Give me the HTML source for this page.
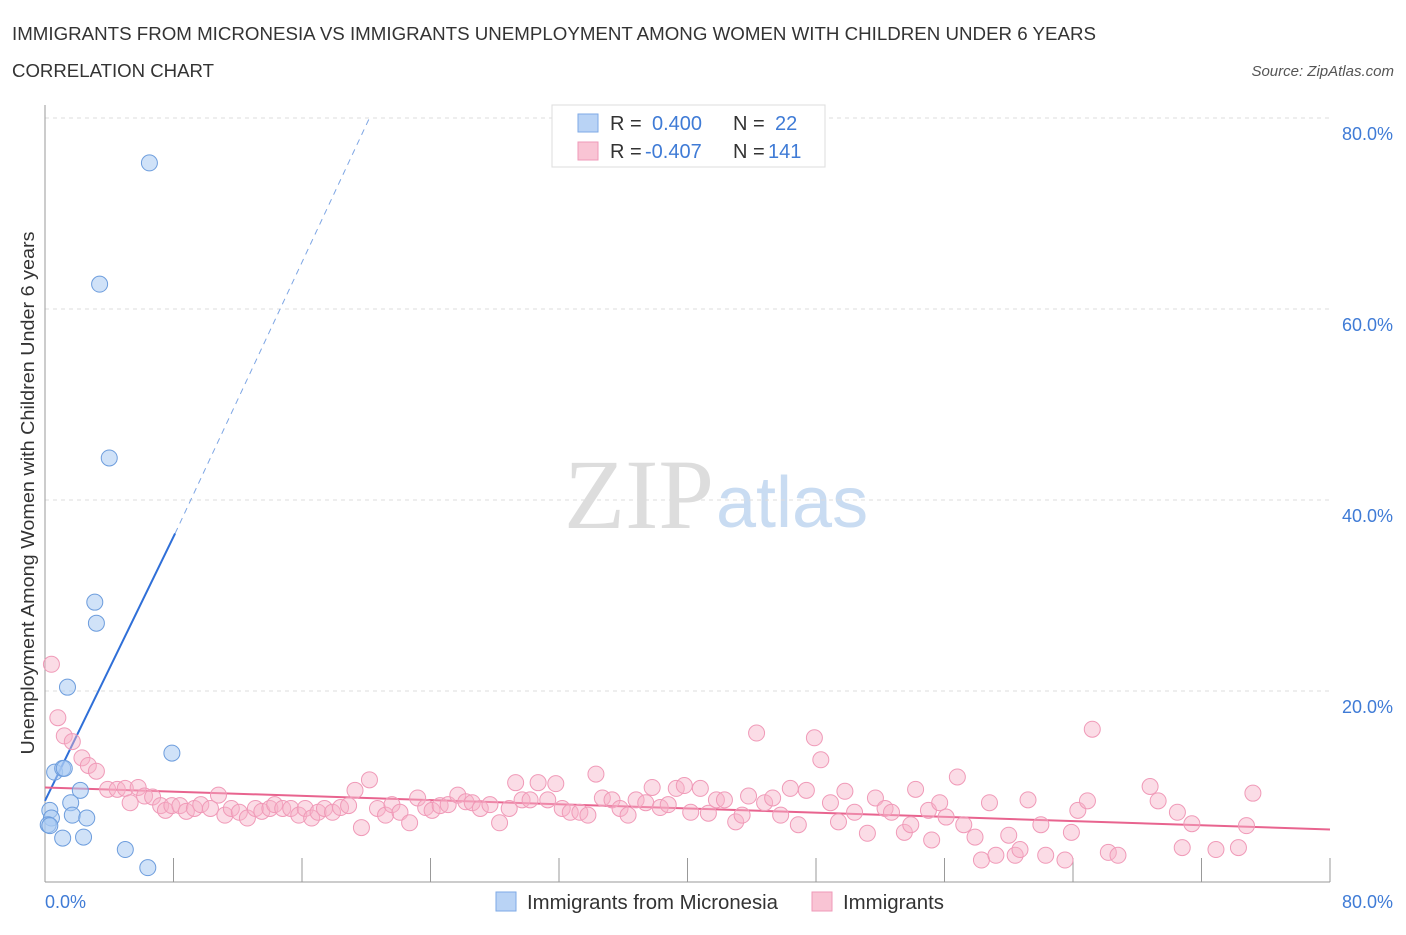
<!DOCTYPE html>
<html><head><meta charset="utf-8">
<style>
body{margin:0;background:#fff;font-family:"Liberation Sans",sans-serif;}
</style></head>
<body>
<svg id="chart" width="1406" height="930" xmlns="http://www.w3.org/2000/svg" style="font-family:'Liberation Sans',sans-serif">
<text x="12" y="40" font-size="18" fill="#333" textLength="1084" lengthAdjust="spacingAndGlyphs">IMMIGRANTS FROM MICRONESIA VS IMMIGRANTS UNEMPLOYMENT AMONG WOMEN WITH CHILDREN UNDER 6 YEARS</text>
<text x="12" y="77" font-size="18" fill="#333" textLength="202" lengthAdjust="spacingAndGlyphs">CORRELATION CHART</text>
<text x="1394" y="76" font-size="15" fill="#555" font-style="italic" text-anchor="end">Source: ZipAtlas.com</text>
<text x="714" y="528" font-size="100" fill="#ddd" text-anchor="end" font-family="Liberation Serif,serif">ZIP</text>
<text x="716" y="527" font-size="72" fill="#c9dcf2">atlas</text>
<text transform="translate(34,493) rotate(-90)" font-size="18" fill="#333" text-anchor="middle" textLength="523" lengthAdjust="spacingAndGlyphs">Unemployment Among Women with Children Under 6 years</text>
<g id="grid"></g><g id="axes"></g><g id="trend"></g><g id="pts"></g>
<g>
<rect x="552" y="105" width="273" height="62" fill="#fff" stroke="#ddd"/>
<rect x="578" y="114" width="20" height="18" fill="#b9d3f5" stroke="#7eaae6"/>
<rect x="578" y="142" width="20" height="18" fill="#f9c4d4" stroke="#ef9ab8"/>
<text y="130" font-size="20" fill="#333"><tspan x="610">R =</tspan><tspan x="652" fill="#3f7bd6">0.400</tspan><tspan x="733">N =</tspan><tspan x="775" fill="#3f7bd6">22</tspan></text>
<text y="158" font-size="20" fill="#333"><tspan x="610">R =</tspan><tspan x="645" fill="#3f7bd6">-0.407</tspan><tspan x="733">N =</tspan><tspan x="768" fill="#3f7bd6">141</tspan></text>
</g>
<g>
<rect x="496" y="892" width="20" height="19" fill="#b9d3f5" stroke="#7eaae6"/>
<text x="527" y="909" font-size="20" fill="#333" textLength="251" lengthAdjust="spacingAndGlyphs">Immigrants from Micronesia</text>
<rect x="812" y="892" width="20" height="19" fill="#f9c4d4" stroke="#ef9ab8"/>
<text x="843" y="909" font-size="20" fill="#333" textLength="101" lengthAdjust="spacingAndGlyphs">Immigrants</text>
</g>
</svg>
<script>
const yTicks=[20,40,60,80];
const yTickLabels=["20.0%","40.0%","60.0%","80.0%"];
const xTickLabels=["0.0%","80.0%"];
const blueX=[6.5,3.4,4.0,3.1,3.2,1.4,7.9,0.6,1.1,1.2,2.2,1.6,1.7,2.6,0.3,0.4,0.2,1.1,2.4,5.0,6.4,0.3];
const blueY=[75.3,62.6,44.4,29.3,27.1,20.4,13.5,11.5,11.9,11.9,9.6,8.3,7.0,6.7,7.5,6.7,6.0,4.6,4.7,3.4,1.5,5.9];
const pinkX=[0.4,0.8,1.2,1.7,2.3,2.7,3.2,3.9,4.5,5.0,5.3,5.8,6.2,6.7,7.2,7.5,7.9,8.4,8.8,9.3,9.7,10.3,10.8,11.2,11.6,12.1,12.6,13.1,13.5,14.0,14.3,14.8,15.3,15.8,16.2,16.6,17.0,17.4,17.9,18.4,18.9,19.3,19.7,20.2,20.7,21.2,21.6,22.1,22.7,23.2,23.7,24.1,24.6,25.1,25.7,26.2,26.6,27.1,27.7,28.3,28.9,29.3,29.7,30.2,30.7,31.3,31.8,32.2,32.7,33.3,33.8,34.3,34.7,35.3,35.8,36.3,36.8,37.4,37.8,38.3,38.8,39.3,39.8,40.2,40.8,41.3,41.8,42.3,43.0,43.4,43.8,44.3,44.8,45.3,45.8,46.4,46.9,47.4,47.9,48.3,48.9,49.4,49.8,50.4,51.2,51.7,52.3,52.7,53.5,53.9,54.2,55.0,55.2,55.7,56.1,56.8,57.2,57.9,58.3,58.8,59.2,60.0,60.4,60.7,61.2,62.0,62.3,63.5,63.9,64.3,64.9,65.2,66.2,66.8,68.8,69.3,70.5,70.8,71.4,72.9,74.3,74.8,75.2];
const pinkY=[22.8,17.2,15.3,14.7,13.0,12.2,11.6,9.7,9.7,9.8,8.3,9.9,9.0,8.9,8.0,7.5,8.0,8.0,7.4,7.7,8.1,7.7,9.1,7.0,7.7,7.3,6.7,7.7,7.4,7.7,8.1,7.7,7.7,7.0,7.7,6.7,7.3,7.7,7.3,7.8,8.0,9.6,5.7,10.7,7.7,7.0,8.1,7.3,6.2,8.8,7.8,7.5,8.0,8.1,9.1,8.4,8.3,7.7,8.1,6.2,7.7,10.4,8.6,8.6,10.4,8.6,10.3,7.7,7.3,7.3,7.0,11.3,8.8,8.6,7.7,7.0,8.6,8.3,9.9,7.8,8.1,9.8,10.1,7.3,9.8,7.2,8.6,8.6,6.3,7.0,9.0,15.6,8.3,8.8,7.0,9.8,6.0,9.6,15.1,12.8,8.3,6.3,9.5,7.3,5.1,8.8,7.7,7.3,5.2,6.0,9.7,7.5,4.4,8.3,6.8,11.0,6.0,4.7,2.3,8.3,2.8,4.9,2.8,3.4,8.6,6.0,2.8,2.3,5.2,7.5,8.5,16.0,3.1,2.8,10.0,8.5,7.3,3.6,6.1,3.4,3.6,5.9,9.3];
const blueTrendX=[0,8.1,20.2];
const blueTrendY=[8.5,36.5,80];
const pinkTrendX=[0,80];
const pinkTrendY=[9.9,5.5];
const X0=45,X1=1330,Y0=882,Y1=118;
const sx=v=>X0+v/80*(X1-X0);
const sy=v=>Y0-v/80*(Y0-Y1);
const NS="http://www.w3.org/2000/svg";
function mk(parent,tag,attrs){const e=document.createElementNS(NS,tag);for(const k in attrs)e.setAttribute(k,attrs[k]);document.getElementById(parent).appendChild(e);return e;}
yTicks.forEach((t,i)=>{
 const l=mk('grid','line',{x1:X0,x2:X1,y1:sy(t),y2:sy(t),stroke:'#ddd','stroke-dasharray':'4,4'});
 
 
 const tx=mk('grid','text',{x:1393,y:sy(t)+22,'font-size':18,fill:'#3f7bd6','text-anchor':'end'});
 tx.textContent=yTickLabels[i];
 
 
});
const ax=mk('axes','line',{x1:X0,x2:X1,y1:Y0,y2:Y0,stroke:'#999'});


const ay=mk('axes','line',{x1:X0,x2:X0,y1:105,y2:Y0,stroke:'#999'});


for(let i=1;i<=10;i++){
 const t=mk('axes','line',{x1:sx(i*8),x2:sx(i*8),y1:Y0-24,y2:Y0,stroke:'#999'});
 
 
}
[[0,'start',45],[80,'end',1393]].forEach((d,i)=>{
 const t=mk('axes','text',{x:d[2],y:908,'font-size':18,fill:'#3f7bd6','text-anchor':d[1]});
 t.textContent=xTickLabels[i];
 
 
});
const bs=mk('trend','line',{x1:sx(blueTrendX[0]),y1:sy(blueTrendY[0]),x2:sx(blueTrendX[1]),y2:sy(blueTrendY[1]),stroke:'#2f6fd8','stroke-width':2});


const bd=mk('trend','line',{x1:sx(blueTrendX[1]),y1:sy(blueTrendY[1]),x2:sx(blueTrendX[2]),y2:sy(blueTrendY[2]),stroke:'#7ea6e4','stroke-width':1,'stroke-dasharray':'6,5'});


const pt=mk('trend','line',{x1:sx(pinkTrendX[0]),y1:sy(pinkTrendY[0]),x2:sx(pinkTrendX[1]),y2:sy(pinkTrendY[1]),stroke:'#e8648f','stroke-width':2});


pinkX.forEach((x,i)=>{
 const c=mk('pts','circle',{cx:sx(x),cy:sy(pinkY[i]),r:8,fill:'rgba(246,178,200,0.45)',stroke:'#f09ab8','stroke-width':1});
 
 
});
blueX.forEach((x,i)=>{
 const c=mk('pts','circle',{cx:sx(x),cy:sy(blueY[i]),r:8,fill:'rgba(170,202,242,0.55)',stroke:'#6d9ddd','stroke-width':1});
 
 
});
</script>
</body></html>
